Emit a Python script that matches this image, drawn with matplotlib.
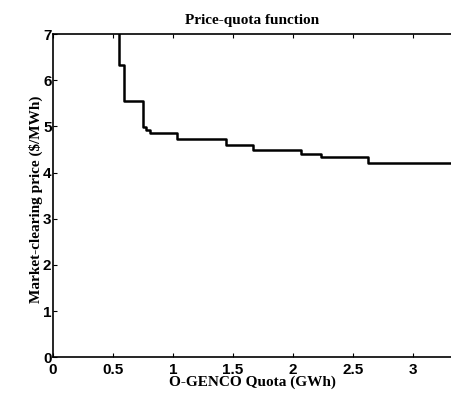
import numpy as np
from matplotlib import pyplot as plt

# quota breakpoints (GWh) and clearing price ($/MWh) on each step
quota = [0.553, 0.553, 0.594, 0.747, 0.775, 0.808, 1.036, 1.44, 1.664, 2.064, 2.233, 2.628, 3.33]
price = [8.0, 6.32, 5.54, 4.99, 4.93, 4.86, 4.72, 4.59, 4.49, 4.41, 4.34, 4.20, 4.20]

xticks = [0, 0.5, 1, 1.5, 2, 2.5, 3]
xtick_labels = ["0", "0.5", "1", "1.5", "2", "2.5", "3"]
yticks = [0, 1, 2, 3, 4, 5, 6, 7]

fig = plt.figure(figsize=(4.52, 3.96), dpi=100)
ax = fig.add_axes([0.117, 0.098, 0.883, 0.816])

ax.step(quota, price, where='post', color='black', linewidth=1.8)

ax.set_xlim(0, 3.325)
ax.set_ylim(0, 7)
ax.set_xticks(xticks, xtick_labels)
ax.set_yticks(yticks)
ax.tick_params(direction='in', length=3, width=0.8, top=True)
ax.tick_params(axis='x', pad=4)
ax.tick_params(axis='y', pad=1)
for lbl in ax.get_xticklabels() + ax.get_yticklabels():
    lbl.set_fontfamily('Liberation Sans')
    lbl.set_fontweight('bold')
    lbl.set_fontsize(11)

for side in ['left', 'bottom', 'top']:
    ax.spines[side].set_linewidth(1.2)
ax.spines['right'].set_visible(False)

serif = {'family': 'Liberation Serif', 'weight': 'bold', 'size': 11}
ax.set_title('Price-quota function', fontdict=serif, pad=7)
ax.set_xlabel('O-GENCO Quota (GWh)', fontdict=serif, labelpad=-1)
ax.set_ylabel('Market-clearing price ($/MWh)', fontdict=serif)
ax.yaxis.set_label_coords(-0.026, 0.49)

fig.savefig("out.png", dpi=100)
